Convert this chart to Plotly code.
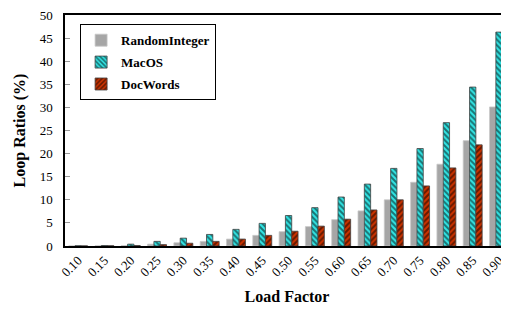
import plotly.graph_objects as go

load_factors = ["0.10","0.15","0.20","0.25","0.30","0.35","0.40","0.45","0.50",
                "0.55","0.60","0.65","0.70","0.75","0.80","0.85","0.90"]
random_integer = [0.02,0.05,0.1,0.4,0.7,1.0,1.5,2.3,3.1,4.2,5.7,7.6,10.0,13.8,17.7,22.8,30.1]
macos = [0.05,0.1,0.4,1.0,1.7,2.5,3.6,4.9,6.6,8.3,10.6,13.4,16.8,21.1,26.7,34.4,46.3]
docwords = [0.02,0.05,0.1,0.3,0.6,1.0,1.5,2.3,3.2,4.3,5.8,7.8,10.0,13.0,16.9,21.9,29.0]
series_names = ["RandomInteger", "MacOS", "DocWords"]

fig = go.Figure()
fig.add_trace(go.Bar(x=load_factors, y=random_integer, name="<b>" + series_names[0] + "</b>",
                     legendgroup="a",
                     marker=dict(color="#a6a6a6", line=dict(color="#c8c8c8", width=0.8))))
fig.add_trace(go.Bar(x=load_factors, y=macos, name="<b>" + series_names[1] + "</b>",
                     legendgroup="b",
                     marker=dict(color="#33e6e6", line=dict(color="#404040", width=0.8),
                                 pattern=dict(shape="\\", fgcolor="black", bgcolor="#33e6e6",
                                              size=4, solidity=0.5))))
fig.add_trace(go.Bar(x=load_factors, y=docwords, name="<b>" + series_names[2] + "</b>",
                     legendgroup="c",
                     marker=dict(color="#cc3300", line=dict(color="#404040", width=0.8),
                                 pattern=dict(shape="/", fgcolor="black", bgcolor="#cc3300",
                                              size=4, solidity=0.5))))

ff = "Liberation Serif"
fig.update_layout(
    width=501, height=306,
    margin=dict(l=57, r=0, t=4, b=68),
    paper_bgcolor="white", plot_bgcolor="white",
    barmode="group", bargap=0.28, bargroupgap=0,
    font=dict(family=ff, size=13, color="black"),
    showlegend=True,
    legend=dict(x=0.034, y=0.96, xanchor="left", yanchor="top",
                bordercolor="black", borderwidth=1, bgcolor="white",
                font=dict(family=ff, size=13, color="black"),
                traceorder="grouped", tracegroupgap=2,
                itemwidth=30),
    xaxis=dict(title=dict(text="<b>Load Factor</b>", font=dict(family=ff, size=16), standoff=12),
               range=[-0.5, 16.38],
               tickangle=-45, showline=True, linecolor="black", linewidth=1.5,
               mirror=True, ticks="", showgrid=False,
               tickfont=dict(family=ff, size=13, color="black")),
    yaxis=dict(title=dict(text="<b>Loop Ratios (%)</b>", font=dict(family=ff, size=16), standoff=10),
               range=[0, 50], dtick=5, showline=True, linecolor="black", linewidth=1.5,
               mirror=False, ticks="inside", ticklen=5, tickcolor="#999999",
               ticklabeloverflow="allow", ticklabelstandoff=8,
               showgrid=False, zeroline=False,
               tickfont=dict(family=ff, size=13, color="black")),
)
fig.write_html("out.html")
